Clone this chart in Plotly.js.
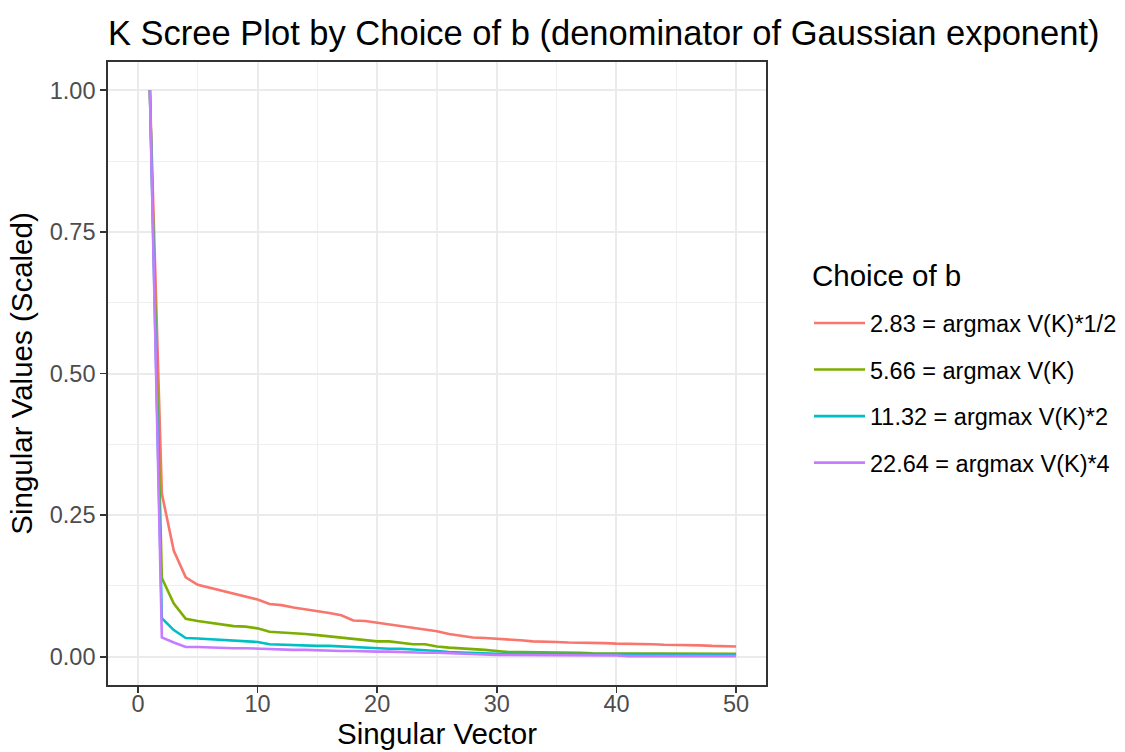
<!DOCTYPE html>
<html>
<head>
<meta charset="utf-8">
<script src="https://cdn.plot.ly/plotly-3.0.1.min.js"></script>
<style>html,body{margin:0;padding:0;background:#fff;}#chart{width:1125px;height:752px;}</style>
</head>
<body>
<div id="chart"></div>
<script>
const seriesNames = [
  "2.83 = argmax V(K)*1/2",
  "5.66 = argmax V(K)",
  "11.32 = argmax V(K)*2",
  "22.64 = argmax V(K)*4"
];
const seriesColors = ["#F8766D", "#7CAE00", "#00BFC4", "#C77CFF"];
const legendTitle = "Choice of b";
const singularVector = [1,2,3,4,5,6,7,8,9,10,11,12,13,14,15,16,17,18,19,20,21,22,23,24,25,26,27,28,29,30,31,32,33,34,35,36,37,38,39,40,41,42,43,44,45,46,47,48,49,50];
const valsB283 = [1.000,0.288,0.187,0.140,0.127,0.122,0.116,0.111,0.107,0.101,0.093,0.091,0.087,0.084,0.081,0.077,0.073,0.064,0.063,0.060,0.057,0.053,0.051,0.048,0.045,0.040,0.037,0.034,0.033,0.032,0.031,0.029,0.027,0.027,0.026,0.025,0.025,0.024,0.024,0.023,0.023,0.022,0.022,0.021,0.021,0.020,0.020,0.019,0.019,0.018];
const valsB566 = [1.000,0.139,0.094,0.067,0.063,0.060,0.057,0.054,0.053,0.050,0.044,0.043,0.041,0.040,0.038,0.036,0.034,0.031,0.030,0.027,0.027,0.024,0.022,0.022,0.018,0.016,0.015,0.013,0.012,0.010,0.008,0.008,0.008,0.007,0.007,0.007,0.007,0.006,0.006,0.006,0.006,0.006,0.006,0.005,0.005,0.005,0.005,0.005,0.005,0.005];
const valsB1132 = [1.000,0.068,0.047,0.033,0.032,0.031,0.030,0.029,0.028,0.026,0.022,0.021,0.021,0.020,0.019,0.019,0.018,0.016,0.015,0.015,0.014,0.014,0.013,0.012,0.010,0.008,0.007,0.007,0.006,0.005,0.005,0.005,0.005,0.005,0.004,0.004,0.004,0.004,0.004,0.004,0.004,0.004,0.004,0.004,0.004,0.0035,0.0035,0.0035,0.0035,0.0035];
const valsB2264 = [1.000,0.034,0.025,0.017,0.017,0.016,0.016,0.015,0.015,0.014,0.013,0.013,0.012,0.012,0.011,0.011,0.010,0.010,0.009,0.009,0.009,0.008,0.008,0.007,0.007,0.006,0.005,0.004,0.004,0.003,0.003,0.003,0.002,0.002,0.002,0.002,0.002,0.002,0.002,0.002,0.001,0.001,0.001,0.001,0.001,0.001,0.001,0.001,0.001,0.001];
const allVals = [valsB283, valsB566, valsB1132, valsB2264];
const xTicks = [0,10,20,30,40,50];
const xMinor = [5,15,25,35,45];
const yTicks = [0,0.25,0.5,0.75,1.0];
const yTickText = ["0.00","0.25","0.50","0.75","1.00"];
const yMinor = [0.125,0.375,0.625,0.875];

const FONT = "Liberation Sans, Arial, Helvetica, sans-serif";

const traces = allVals.map((v, i) => ({
  x: singularVector, y: v, type: "scatter", mode: "lines",
  name: seriesNames[i], legendgroup: "g" + i,
  line: {color: seriesColors[i], width: 2.6}
}));

const axisCommon = {
  showline: true, mirror: true, linecolor: "#333333", linewidth: 1.8,
  ticks: "outside", ticklen: 6, tickcolor: "#333333", tickwidth: 1.8,
  showgrid: true, gridcolor: "#EBEBEB", gridwidth: 2, zeroline: false,
  automargin: false,
  tickfont: {family: FONT, size: 23.5, color: "#4D4D4D"}
};

const layout = {
  width: 1125, height: 752,
  paper_bgcolor: "#ffffff", plot_bgcolor: "#ffffff",
  margin: {l: 108, r: 359, t: 62, b: 67, autoexpand: false},
  font: {family: FONT, color: "#000000"},
  title: {
    text: "K Scree Plot by Choice of b (denominator of Gaussian exponent)",
    font: {family: FONT, size: 34.5, color: "#000000"},
    x: 108/1125, xref: "container", xanchor: "left",
    y: 1 - 33/752, yref: "container", yanchor: "middle"
  },
  xaxis: Object.assign({}, axisCommon, {
    range: [-2.5, 52.5], tickvals: xTicks, ticktext: xTicks.map(String),
    ticklabelstandoff: -9,
    minor: {tickvals: xMinor, showgrid: true, gridcolor: "#EFEFEF", gridwidth: 1.2, ticks: ""},
    title: {text: "Singular Vector", font: {family: FONT, size: 29.5, color: "#000000"}, standoff: 5}
  }),
  yaxis: Object.assign({}, axisCommon, {
    range: [-0.05, 1.05], tickvals: yTicks, ticktext: yTickText,
    minor: {tickvals: yMinor, showgrid: true, gridcolor: "#EFEFEF", gridwidth: 1.2, ticks: ""},
    title: {text: "Singular Values (Scaled)", font: {family: FONT, size: 29.5, color: "#000000"}, standoff: 8}
  }),
  showlegend: true,
  legend: {
    xref: "container", x: 809 / 1125, xanchor: "left",
    y: 0.616, yanchor: "top",
    traceorder: "grouped", tracegroupgap: 13,
    font: {family: FONT, size: 23.5, color: "#000000"},
    itemwidth: 51, bgcolor: "rgba(0,0,0,0)"
  },
  annotations: [{
    text: legendTitle, xref: "paper", yref: "paper",
    x: (810 - 108) / 658, y: (685 - 275) / 623, xanchor: "left", yanchor: "middle",
    showarrow: false, font: {family: FONT, size: 29.5, color: "#000000"}
  }]
};

Plotly.newPlot("chart", traces, layout, {displayModeBar: false, staticPlot: true});
</script>
</body>
</html>
